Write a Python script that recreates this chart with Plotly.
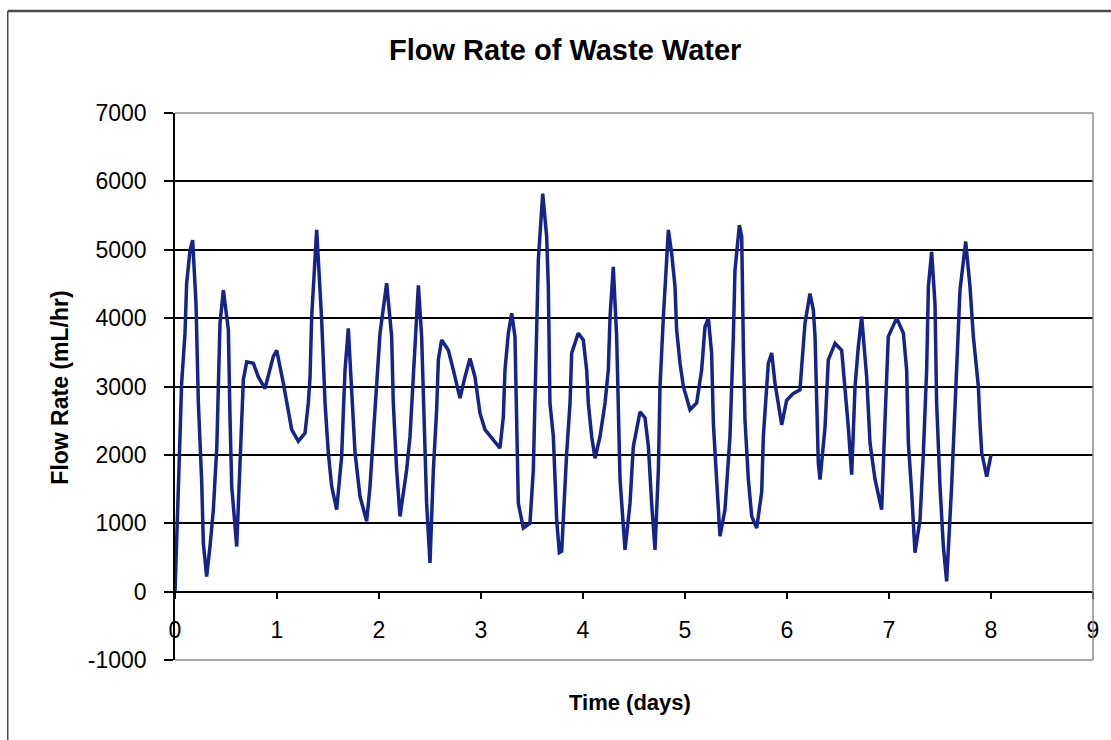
import plotly.graph_objects as go

# Flow rate of waste water, sampled over eight days
time_days = [
    0.000, 0.020, 0.035, 0.065, 0.098, 0.114, 0.147, 0.173, 0.206, 0.229,
    0.261, 0.278, 0.310, 0.343, 0.376, 0.410, 0.425, 0.441, 0.474, 0.523,
    0.539, 0.556, 0.605, 0.637, 0.670, 0.703, 0.768, 0.817, 0.882, 0.964,
    0.997, 1.062, 1.095, 1.144, 1.209, 1.275, 1.307, 1.324, 1.340, 1.389,
    1.438, 1.471, 1.503, 1.536, 1.585, 1.634, 1.650, 1.667, 1.699, 1.732,
    1.765, 1.814, 1.879, 1.912, 1.944, 1.993, 2.010, 2.075, 2.124, 2.140,
    2.173, 2.206, 2.271, 2.304, 2.337, 2.353, 2.386, 2.418, 2.451, 2.467,
    2.500, 2.533, 2.565, 2.582, 2.614, 2.680, 2.729, 2.794, 2.843, 2.892,
    2.941, 2.990, 3.039, 3.121, 3.186, 3.219, 3.235, 3.268, 3.301, 3.333,
    3.350, 3.366, 3.415, 3.480, 3.513, 3.546, 3.562, 3.605, 3.644, 3.660,
    3.676, 3.709, 3.742, 3.768, 3.791, 3.840, 3.873, 3.889, 3.954, 4.003,
    4.036, 4.052, 4.085, 4.118, 4.167, 4.216, 4.248, 4.265, 4.297, 4.330,
    4.346, 4.363, 4.412, 4.461, 4.493, 4.559, 4.608, 4.641, 4.673, 4.706,
    4.739, 4.755, 4.788, 4.837, 4.869, 4.902, 4.918, 4.951, 4.984, 5.049,
    5.114, 5.163, 5.196, 5.229, 5.261, 5.278, 5.310, 5.343, 5.392, 5.441,
    5.474, 5.490, 5.533, 5.556, 5.572, 5.588, 5.621, 5.654, 5.703, 5.752,
    5.768, 5.784, 5.817, 5.850, 5.882, 5.948, 5.997, 6.062, 6.127, 6.144,
    6.176, 6.225, 6.258, 6.275, 6.291, 6.307, 6.324, 6.373, 6.405, 6.471,
    6.536, 6.569, 6.601, 6.634, 6.667, 6.699, 6.732, 6.781, 6.814, 6.863,
    6.928, 6.961, 6.993, 7.075, 7.141, 7.173, 7.190, 7.222, 7.255, 7.304,
    7.337, 7.369, 7.386, 7.418, 7.451, 7.467, 7.500, 7.533, 7.565, 7.614,
    7.647, 7.680, 7.696, 7.752, 7.794, 7.827, 7.876, 7.892, 7.909, 7.958,
    8.000,
]

flow_ml_hr = [
    0, 810, 1610, 3050, 3780, 4510, 4990, 5140, 4210, 2760,
    1640, 710, 220, 660, 1200, 2120, 3190, 3920, 4410, 3830,
    2560, 1540, 660, 1780, 3100, 3360, 3340, 3140, 2970, 3440,
    3530, 3050, 2760, 2370, 2200, 2320, 2760, 3140, 4020, 5290,
    3970, 2760, 2030, 1540, 1200, 1980, 2610, 3240, 3850, 3000,
    2030, 1390, 1030, 1540, 2270, 3240, 3780, 4510, 3730, 2760,
    1780, 1100, 1780, 2270, 3240, 3730, 4480, 3730, 2270, 1290,
    420, 1780, 2660, 3390, 3680, 3530, 3240, 2830, 3140, 3410,
    3140, 2610, 2370, 2220, 2100, 2560, 3240, 3780, 4070, 3730,
    2270, 1290, 930, 1000, 1780, 3730, 4850, 5820, 5190, 4460,
    2760, 2270, 1050, 570, 590, 2030, 2760, 3490, 3780, 3680,
    3240, 2760, 2270, 1950, 2270, 2760, 3240, 4020, 4750, 3730,
    2760, 1640, 610, 1290, 2120, 2630, 2540, 2120, 1290, 610,
    1780, 3000, 4020, 5290, 4950, 4460, 3830, 3340, 3000, 2660,
    2760, 3240, 3870, 4000, 3490, 2460, 1640, 810, 1200, 2270,
    3730, 4700, 5360, 5190, 3580, 2510, 1640, 1100, 930, 1460,
    2270, 2660, 3340, 3490, 3050, 2440, 2800, 2900, 2950, 3290,
    3920, 4360, 4120, 3730, 2950, 1880, 1640, 2410, 3390, 3630,
    3530, 3000, 2410, 1710, 3000, 3580, 4020, 3140, 2170, 1640,
    1200, 2510, 3730, 4000, 3780, 3240, 2170, 1460, 570, 1050,
    2030, 3240, 4460, 4970, 4210, 2760, 1540, 660, 150, 1540,
    2760, 3730, 4410, 5120, 4460, 3730, 3000, 2460, 2030, 1680,
    2000,
]

x_ticks = [0, 1, 2, 3, 4, 5, 6, 7, 8, 9]
y_ticks = [-1000, 0, 1000, 2000, 3000, 4000, 5000, 6000, 7000]
y_tick_text = ["-1000", "0", "1000", "2000", "3000", "4000", "5000", "6000", "7000"]

FONT = "Liberation Sans, Arial, sans-serif"
LINE_COLOR = "#15238a"

fig = go.Figure(
    go.Scatter(
        x=time_days,
        y=flow_ml_hr,
        mode="lines",
        line=dict(color=LINE_COLOR, width=3.5),
        showlegend=False,
    )
)

fig.update_layout(
    width=1111,
    height=740,
    margin=dict(l=175, r=14, t=113, b=80),
    paper_bgcolor="white",
    plot_bgcolor="white",
    font=dict(family=FONT, color="black"),
    xaxis=dict(
        range=[x_ticks[0], x_ticks[-1]],
        tickvals=x_ticks,
        ticks="outside",
        ticklen=7,
        tickwidth=1.5,
        tickcolor="black",
        tickfont=dict(size=23, family=FONT),
        ticklabelstandoff=11,
        showline=True,
        linecolor="black",
        linewidth=1.5,
        showgrid=False,
        zeroline=False,
        anchor="free",
        position=0.125,
    ),
    yaxis=dict(
        range=[y_ticks[0], y_ticks[-1]],
        tickvals=y_ticks,
        ticktext=y_tick_text,
        ticks="outside",
        ticklen=9,
        tickwidth=1.5,
        tickcolor="black",
        tickfont=dict(size=23, family=FONT),
        ticklabelstandoff=13,
        showline=True,
        linecolor="black",
        linewidth=1.5,
        showgrid=True,
        gridcolor="black",
        gridwidth=1.5,
        zeroline=False,
    ),
    annotations=[
        dict(
            text="<b>Flow Rate of Waste Water</b>",
            xref="paper", yref="paper", x=0.4252, y=1.1152,
            xanchor="center", yanchor="middle", showarrow=False,
            font=dict(size=29, family=FONT, color="black"),
        ),
        dict(
            text="<b>Time (days)</b>",
            xref="paper", yref="paper", x=0.4957, y=-0.0768,
            xanchor="center", yanchor="middle", showarrow=False,
            font=dict(size=22, family=FONT, color="black"),
        ),
        dict(
            text="<b>Flow Rate (mL/hr)</b>",
            xref="paper", yref="paper", x=-0.1247, y=0.497,
            xanchor="center", yanchor="middle", showarrow=False,
            textangle=-90,
            font=dict(size=23, family=FONT, color="black"),
        ),
    ],
    shapes=[
        # plot-area frame: top, right and bottom edges in grey
        dict(type="line", xref="paper", yref="paper", x0=0, x1=1, y0=1, y1=1,
             line=dict(color="#8c8c8c", width=1.5), layer="above"),
        dict(type="line", xref="paper", yref="paper", x0=1, x1=1, y0=0, y1=1,
             line=dict(color="#8c8c8c", width=1.5), layer="above"),
        dict(type="line", xref="paper", yref="paper", x0=0, x1=1, y0=0, y1=0,
             line=dict(color="#8c8c8c", width=1.5), layer="above"),
        # outer chart frame
        dict(type="line", xref="paper", yref="paper", x0=-0.1822, x1=1.03,
             y0=1.1865, y1=1.1865, line=dict(color="#4a4a4a", width=2.5)),
        dict(type="line", xref="paper", yref="paper", x0=-0.1822, x1=-0.1822,
             y0=1.1865, y1=-0.2, line=dict(color="#4a4a4a", width=1.5)),
    ],
)

fig.write_html("out.html")
